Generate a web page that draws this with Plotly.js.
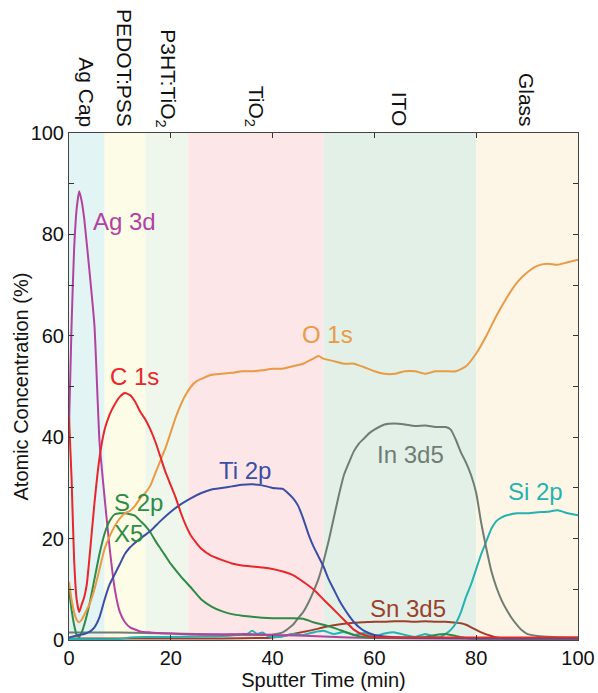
<!DOCTYPE html>
<html>
<head>
<meta charset="utf-8">
<script src="https://cdn.plot.ly/plotly-3.0.1.min.js"></script>
<style>html,body{margin:0;padding:0;background:#fff;}#chart{width:598px;height:693px;}</style>
</head>
<body>
<div id="chart"></div>
<script>
// Layers (sputter-time ranges)
const layerNames = ["Ag Cap", "PEDOT:PSS", "P3HT:TiO<sub>2</sub>", "TiO<sub>2</sub>", "ITO", "Glass"];
const layerStart = [0, 7, 15, 23.4, 50, 80];
const layerEnd   = [7, 15, 23.4, 50, 80, 100];

// Ag 3d
const agX = [0, 0.5, 1, 1.5, 2, 2.5, 3, 4, 5, 6, 7, 8, 9, 10, 11, 12, 14, 16, 20, 25, 30, 35, 40, 45, 50, 55, 60, 70, 80, 90, 100];
const agY = [42, 62, 77, 85, 88.5, 86.5, 83, 73, 62, 39, 28, 18, 10, 5.5, 3.5, 2.5, 1.7, 1.5, 1.3, 1.1, 1.1, 1.2, 1.0, 0.9, 0.7, 0.5, 0.4, 0.3, 0.3, 0.3, 0.3];

// C 1s
const cX = [0, 0.5, 1, 1.5, 2, 2.5, 3, 3.5, 4, 5, 6, 7, 8, 9, 10, 11, 12, 13, 14, 15, 16, 17, 18, 19, 20, 21, 22, 23, 24, 26, 28, 30, 32, 34, 36, 38, 40, 42, 44, 46, 48, 50, 52, 54, 56, 58, 60, 65, 70, 80, 90, 100];
const cY = [44, 32, 16, 8, 5.5, 7, 8.5, 11, 16, 27, 36, 41.5, 44.5, 46.5, 48, 48.7, 48.3, 47, 45, 43.5, 41.5, 39, 36, 33, 30.5, 28, 25, 22.5, 20.5, 18, 16.6, 15.8, 15.1, 14.7, 14.5, 14.3, 14, 13.5, 12.8, 11.5, 10, 8, 6, 4, 2, 1, 0.6, 0.5, 0.5, 0.5, 0.5, 0.5];

// O 1s
const oX = [0, 0.5, 1, 1.5, 2, 2.5, 3, 4, 5, 6, 7, 8, 9, 10, 11, 12, 13, 14, 15, 16, 17, 18, 19, 20, 21, 22, 23, 24, 25, 26, 28, 30, 32, 34, 36, 38, 40, 42, 44, 46, 48, 49, 50, 52, 54, 56, 58, 60, 62, 64, 66, 68, 70, 72, 74, 76, 78, 80, 82, 84, 86, 88, 90, 92, 94, 96, 98, 100];
const oY = [11.5, 8, 5.5, 4, 3.5, 4, 5, 7, 10, 14, 18, 20.5, 22.5, 24, 25, 25.5, 26.5, 28, 29, 30.5, 33, 35.5, 38, 41, 44, 46.5, 48.5, 50, 51, 51.5, 52.3, 52.5, 52.7, 53, 53, 53.2, 53.5, 53.5, 54, 54.5, 55.5, 56, 55.5, 55, 54.5, 54.5, 53.8, 53, 52.5, 52.5, 53, 53, 52.5, 53, 53, 53, 54, 56.5, 60, 64, 67.5, 70.5, 72.5, 73.8, 74.2, 74, 74.5, 75];

// Ti 2p
const tiX = [0, 2, 3, 4, 5, 6, 7, 8, 9, 10, 11, 12, 13, 14, 16, 18, 20, 22, 24, 26, 28, 30, 32, 34, 36, 38, 40, 42, 44, 45, 46, 47, 48, 49, 50, 51, 52, 53, 54, 55, 56, 57, 58, 60, 62, 65, 70, 80, 90, 100];
const tiY = [0.5, 1, 1.2, 1.6, 2.5, 4.5, 8, 11, 13, 15, 17, 18.3, 19.2, 20, 21.5, 23.5, 25.3, 26.8, 28, 29, 29.7, 30, 30.3, 30.6, 30.7, 30.5, 30, 29.8, 28, 26.5, 24, 21, 18.5, 16.5, 14.5, 12, 10, 8, 6.3, 4.8, 3.5, 2.5, 1.8, 1, 0.7, 0.5, 0.4, 0.3, 0.3, 0.3];

// S 2p (x5)
const sX = [0, 0.5, 1, 1.5, 2, 2.5, 3, 4, 5, 6, 7, 8, 9, 10, 11, 12, 13, 14, 15, 16, 17, 18, 19, 20, 22, 24, 26, 28, 30, 32, 34, 36, 38, 40, 42, 44, 46, 48, 50, 52, 54, 56, 58, 60, 65, 70, 72, 74, 76, 78, 80, 90, 100];
const sY = [10, 6, 3, 1, 0.6, 1.5, 3, 7, 12, 17, 21, 23.5, 24.8, 25, 25, 24.8, 24.5, 23.5, 22.5, 21.2, 19.5, 18, 16.5, 15, 12.5, 10.3, 8, 6.6, 5.7, 5.1, 4.8, 4.6, 4.4, 4.3, 4.3, 4.3, 4.2, 3.5, 3, 2.4, 1.7, 1, 0.6, 0.5, 0.5, 0.6, 1, 1.2, 0.8, 0.4, 0.3, 0.3, 0.3];

// In 3d5
const inX = [0, 5, 10, 15, 20, 25, 30, 35, 38, 40, 42, 44, 45, 46, 47, 48, 49, 50, 51, 52, 53, 54, 55, 56, 57, 58, 59, 60, 62, 64, 66, 68, 70, 72, 74, 75, 76, 77, 78, 79, 80, 81, 82, 83, 84, 85, 86, 87, 88, 89, 90, 92, 95, 100];
const inY = [1.5, 1.5, 1.5, 1.4, 1.3, 1.2, 1.1, 1, 1, 1.1, 1.5, 3, 4.3, 5.5, 7.3, 9.5, 12, 15.5, 19.5, 24, 28.5, 32.5, 35, 37.3, 38.8, 39.8, 40.8, 41.5, 42.5, 42.7, 42.5, 42.2, 42.3, 42, 42, 41.5, 39.5, 37, 35, 32.5, 29, 23, 18, 13.5, 10.3, 7.8, 5.9, 4.3, 3, 1.9, 1.2, 0.8, 0.6, 0.5];

// Sn 3d5
const snX = [0, 10, 20, 30, 38, 40, 42, 44, 46, 48, 50, 52, 54, 56, 58, 60, 62, 64, 66, 68, 70, 72, 74, 76, 77, 78, 79, 80, 81, 82, 83, 84, 86, 90, 100];
const snY = [0.3, 0.3, 0.3, 0.3, 0.4, 0.5, 0.8, 1.2, 1.6, 2, 2.5, 2.9, 3.2, 3.4, 3.5, 3.6, 3.6, 3.7, 3.7, 3.6, 3.7, 3.6, 3.6, 3.4, 3.3, 3, 2.5, 2, 1.5, 1.1, 0.8, 0.5, 0.3, 0.3, 0.3];

// Si 2p
const siX = [0, 10, 12, 15, 20, 25, 30, 33, 35, 36, 37, 38, 39, 40, 42, 44, 46, 48, 50, 52, 54, 56, 58, 60, 62, 64, 66, 68, 70, 72, 73, 74, 75, 76, 77, 78, 79, 80, 81, 82, 83, 84, 85, 86, 88, 90, 92, 94, 96, 98, 100];
const siY = [0.2, 0.2, 0.5, 0.6, 0.6, 0.7, 0.8, 1, 1.2, 1.8, 1.2, 1.5, 0.8, 0.6, 0.7, 1.2, 1, 1.5, 1.8, 1.2, 1.6, 1, 1.4, 0.8, 1.3, 1.5, 1, 0.6, 1.2, 0.6, 0.6, 1.2, 2, 3.3, 5.5, 8.5, 11, 14, 17, 19.5, 22, 23.5, 24.2, 24.6, 25, 25, 25.2, 25.3, 25.6, 25, 24.6];

// Series labels
const seriesNames = ["Ag 3d", "C 1s", "O 1s", "Ti 2p", "S 2p<br>X5", "In 3d5", "Sn 3d5", "Si 2p"];
const labelX = [11, 12.8, 50.7, 34.6, 8.4, 67, 66.6, 91.7];
const labelY = [82.6, 51.9, 60.2, 33.5, 24, 36.5, 6.3, 29.2];

const yTitle = "Atomic Concentration (%)";
const xTitle = "Sputter Time (min)";

const layerColors = ["rgba(224,243,243,0.9)", "rgba(253,252,228,0.9)", "rgba(237,246,234,0.9)", "rgba(253,227,230,0.9)", "rgba(224,239,231,0.95)", "rgba(253,246,229,0.95)"];
const seriesColors = ["#b2429f", "#e8262b", "#e99a45", "#3b4ea6", "#2e8b45", "#707d73", "#9d3f2a", "#24b3b0"];

const xs = [agX, cX, oX, tiX, sX, inX, snX, siX];
const ys = [agY, cY, oY, tiY, sY, inY, snY, siY];
const drawOrder = [6, 7, 5, 0, 4, 3, 2, 1];

const FONT = "Liberation Sans, Arial, Helvetica, sans-serif";

const traces = drawOrder.map(i => ({
  x: xs[i], y: ys[i], type: "scatter", mode: "lines",
  line: {color: seriesColors[i], width: 2, shape: "spline", smoothing: 0.5},
  name: seriesNames[i], hoverinfo: "x+y+name"
}));

const shapes = layerNames.map((n, i) => ({
  type: "rect", xref: "x", yref: "paper", x0: layerStart[i], x1: layerEnd[i], y0: 0, y1: 1,
  fillcolor: layerColors[i], line: {width: 0}, layer: "below"
}));

const annotations = [];
layerNames.forEach((n, i) => {
  annotations.push({
    text: n, xref: "x", yref: "paper", x: (layerStart[i] + layerEnd[i]) / 2, y: 1,
    xanchor: "center", yanchor: "bottom", yshift: 4, textangle: 90, showarrow: false,
    font: {family: FONT, size: 21, color: "#111"}
  });
});
seriesNames.forEach((n, i) => {
  annotations.push({
    text: n, xref: "x", yref: "y", x: labelX[i], y: labelY[i],
    xanchor: i === 4 ? "left" : "center", yanchor: "middle", align: "left", showarrow: false,
    font: {family: FONT, size: 24, color: seriesColors[i]}
  });
});
annotations.push({
  text: yTitle, xref: "paper", yref: "paper", x: 0, y: 0.5, xanchor: "center", yanchor: "middle",
  xshift: -49, textangle: -90, showarrow: false, font: {family: FONT, size: 20, color: "#111"}
});

const layout = {
  width: 598, height: 693,
  margin: {l: 69, r: 20, t: 133, b: 53},
  paper_bgcolor: "#ffffff", plot_bgcolor: "#ffffff",
  showlegend: false,
  font: {family: FONT, color: "#111"},
  xaxis: {
    range: [0, 100], tickvals: [0, 20, 40, 60, 80, 100], ticks: "inside", ticklen: 5,
    tickcolor: "#333", showline: true, linecolor: "#444", linewidth: 1, mirror: "ticks",
    showgrid: false, zeroline: false, tickfont: {family: FONT, size: 20, color: "#111"},
    title: {text: xTitle, font: {family: FONT, size: 20, color: "#111"}, standoff: 2}
  },
  yaxis: {
    range: [0, 100], tickvals: [0, 20, 40, 60, 80, 100], ticks: "inside", ticklen: 5,
    tickcolor: "#333", showline: true, linecolor: "#444", linewidth: 1, mirror: "ticks",
    minor: {dtick: 10, ticks: "inside", ticklen: 5, tickcolor: "#333"},
    showgrid: false, zeroline: false, tickfont: {family: FONT, size: 20, color: "#111"}
  },
  shapes: shapes,
  annotations: annotations
};

Plotly.newPlot("chart", traces, layout, {displayModeBar: false, staticPlot: true});
</script>
</body>
</html>
